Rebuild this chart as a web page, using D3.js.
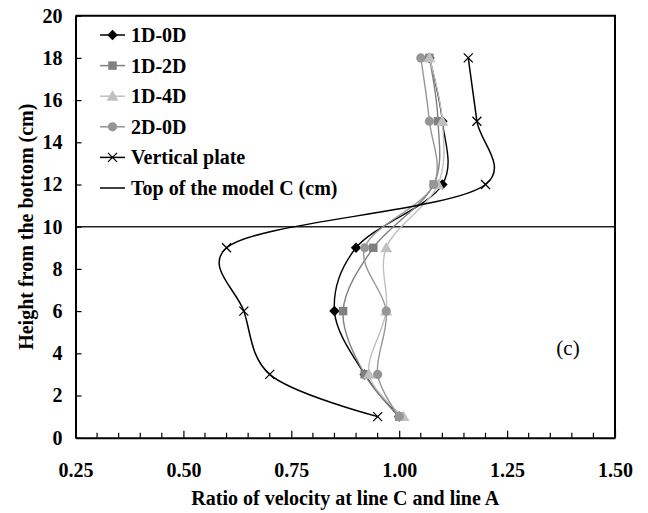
<!DOCTYPE html>
<html>
<head>
<meta charset="utf-8">
<script src="https://cdn.jsdelivr.net/npm/d3@7"></script>
<style>
  html, body { margin: 0; padding: 0; background: #fff; }
  svg { display: block; }
  text { font-family: "Liberation Serif", "Times New Roman", serif; }
</style>
</head>
<body>
<svg id="chart" width="648" height="513"></svg>
<script>
// ---- data ----
const heights = [1, 3, 6, 9, 12, 15, 18];
const s1D0D = [1.00, 0.92, 0.85, 0.90, 1.10, 1.10, 1.07];
const s1D2D = [1.00, 0.92, 0.87, 0.94, 1.08, 1.09, 1.07];
const s1D4D = [1.01, 0.93, 0.97, 0.97, 1.09, 1.10, 1.07];
const s2D0D = [1.00, 0.95, 0.97, 0.92, 1.08, 1.07, 1.05];
const sVertical = [0.95, 0.70, 0.64, 0.60, 1.20, 1.18, 1.16];
const topOfModel = 10;
const seriesNames = ["1D-0D", "1D-2D", "1D-4D", "2D-0D", "Vertical plate", "Top of the model C (cm)"];
const xTicks = [0.25, 0.50, 0.75, 1.00, 1.25, 1.50];
const yTicks = [0, 2, 4, 6, 8, 10, 12, 14, 16, 18, 20];
const xLabel = "Ratio of velocity at line C and line A";
const yLabel = "Height from the bottom (cm)";
const panelLabel = "(c)";

// ---- layout ----
const L = 75.5, R = 615, T = 15.7, B = 437.7;
const FS = 20;
const svg = d3.select("#chart");
const x = d3.scaleLinear().domain([0.25, 1.5]).range([L, R]);
const y = d3.scaleLinear().domain([0, 20]).range([B, T]);

const series = [
  { name: seriesNames[0], vals: s1D0D, color: "#000000", marker: "diamond" },
  { name: seriesNames[1], vals: s1D2D, color: "#808080", marker: "square" },
  { name: seriesNames[2], vals: s1D4D, color: "#c0c0c0", marker: "triangle" },
  { name: seriesNames[3], vals: s2D0D, color: "#969696", marker: "circle" },
  { name: seriesNames[4], vals: sVertical, color: "#000000", marker: "x" }
];

const symbolFor = {
  diamond: d3.symbol().type(d3.symbolDiamond2).size(70),
  square: d3.symbol().type(d3.symbolSquare).size(72),
  triangle: d3.symbol().type(d3.symbolTriangle).size(62),
  circle: d3.symbol().type(d3.symbolCircle).size(66)
};

function drawMarker(g, type, cx, cy, color) {
  if (type === "x") {
    const s = 4.5;
    g.append("path")
      .attr("d", `M${cx - s},${cy - s}L${cx + s},${cy + s}M${cx - s},${cy + s}L${cx + s},${cy - s}`)
      .attr("stroke", color).attr("stroke-width", 1.3).attr("fill", "none");
  } else {
    g.append("path")
      .attr("d", symbolFor[type]())
      .attr("transform", `translate(${cx},${cy})${type === "triangle" ? " translate(0,1)" : ""}`)
      .attr("fill", color).attr("stroke", "none");
  }
}

// ---- horizontal line: top of the model ----
svg.append("line")
  .attr("x1", x(0.25)).attr("x2", x(1.5))
  .attr("y1", y(topOfModel)).attr("y2", y(topOfModel))
  .attr("stroke", "#222").attr("stroke-width", 1.4);

// ---- series ----
const line = d3.line()
  .x(d => x(d.v)).y(d => y(d.h))
  .curve(d3.curveCatmullRom.alpha(0.25));

series.forEach(s => {
  const pts = heights.map((h, i) => ({ h, v: s.vals[i] }));
  const g = svg.append("g");
  g.append("path").datum(pts)
    .attr("d", line)
    .attr("fill", "none")
    .attr("stroke", s.color)
    .attr("stroke-width", s.marker === "x" ? 1.5 : 1.4);
  pts.forEach(p => drawMarker(g, s.marker, x(p.v), y(p.h), s.color));
});

// ---- axes ----
const yAxis = d3.axisLeft(y).tickValues(yTicks).tickSizeInner(-6).tickSizeOuter(0)
  .tickPadding(13).tickFormat(d3.format("d"));
const gy = svg.append("g").attr("transform", `translate(${L},0)`).call(yAxis);
gy.select(".domain").attr("stroke-width", 2);
gy.selectAll(".tick line").attr("stroke-width", 1.2);
gy.selectAll(".tick text").attr("font-size", FS).attr("font-weight", "bold")
  .attr("font-family", "Liberation Serif").attr("fill", "#000");

const xAxis = d3.axisBottom(x).tickValues(xTicks).tickSizeInner(-7).tickSizeOuter(0)
  .tickPadding(25).tickFormat(d3.format(".2f"));
const gx = svg.append("g").attr("transform", `translate(0,${B})`).call(xAxis);
gx.select(".domain").attr("stroke-width", 2);
gx.selectAll(".tick line").attr("stroke-width", 1.2);
gx.selectAll(".tick text").attr("font-size", FS).attr("font-weight", "bold")
  .attr("font-family", "Liberation Serif").attr("fill", "#000");

// minor x ticks
const minor = d3.range(0.30, 1.5, 0.05).filter(v => Math.abs(v / 0.25 - Math.round(v / 0.25)) > 1e-6);
svg.append("g").selectAll("line").data(minor).join("line")
  .attr("x1", d => x(d)).attr("x2", d => x(d))
  .attr("y1", B).attr("y2", B - 5)
  .attr("stroke", "#000").attr("stroke-width", 1.2);

// frame top and right
svg.append("path")
  .attr("d", `M${L},${T}L${R},${T}L${R},${B}`)
  .attr("fill", "none").attr("stroke", "#000").attr("stroke-width", 2);

// ---- axis titles ----
svg.append("text")
  .attr("x", (L + R) / 2).attr("y", 505)
  .attr("text-anchor", "middle")
  .attr("font-size", FS).attr("font-weight", "bold")
  .text(xLabel);

svg.append("text")
  .attr("transform", `translate(33,${(T + B) / 2}) rotate(-90)`)
  .attr("text-anchor", "middle")
  .attr("font-size", FS).attr("font-weight", "bold")
  .text(yLabel);

// panel label
svg.append("text")
  .attr("x", 568).attr("y", 355)
  .attr("text-anchor", "middle")
  .attr("font-size", 21)
  .text(panelLabel);

// ---- legend ----
const legY0 = 35, legDY = 30.6, lx1 = 100, lx2 = 125, tx = 131;
const legendItems = series.map(s => ({ name: s.name, color: s.color, marker: s.marker }))
  .concat([{ name: seriesNames[5], color: "#000000", marker: null }]);
legendItems.forEach((it, i) => {
  const cy = legY0 + i * legDY;
  const g = svg.append("g");
  g.append("line").attr("x1", lx1).attr("x2", lx2).attr("y1", cy).attr("y2", cy)
    .attr("stroke", it.color).attr("stroke-width", 1.5);
  if (it.marker) drawMarker(g, it.marker, (lx1 + lx2) / 2, cy, it.color);
  g.append("text").attr("x", tx).attr("y", cy + 7)
    .attr("font-size", FS).attr("font-weight", "bold")
    .text(it.name);
});
</script>
</body>
</html>
